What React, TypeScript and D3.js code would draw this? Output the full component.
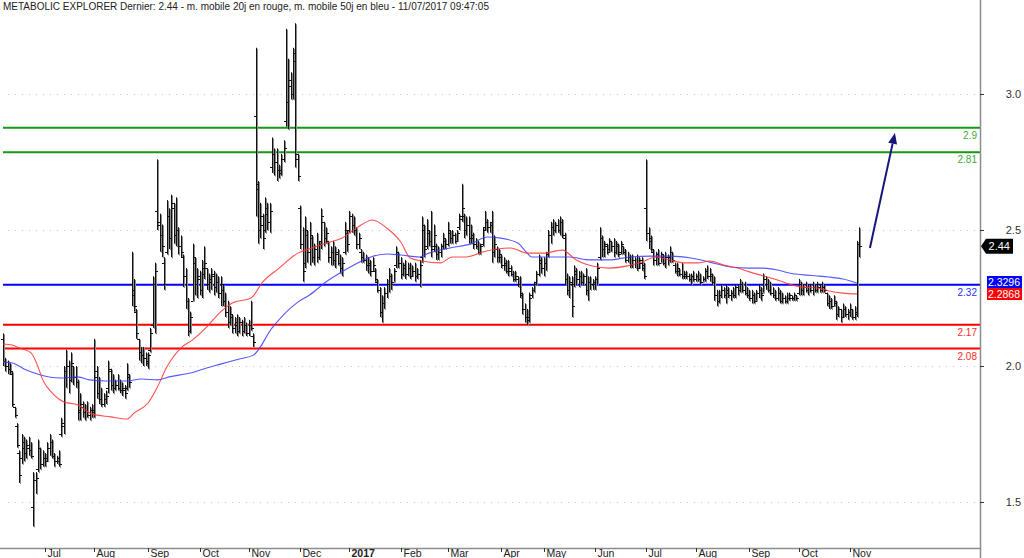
import React from "react";
import * as d3 from "d3";

const TITLE = "METABOLIC EXPLORER Dernier: 2.44 - m. mobile 20j en rouge, m. mobile 50j en bleu - 11/07/2017 09:47:05";

const START_DATE = "2016-06-07";
const HOLIDAYS = ["2016-12-26", "2017-04-14", "2017-04-17", "2017-05-01"];
const MONTH_LABELS = ["Jan", "Feb", "Mar", "Apr", "May", "Jun", "Jul", "Aug", "Sep", "Oct", "Nov", "Dec"];

// daily bars: [open, high, low, close]
const OHLC: number[][] = [
[2.10,2.12,2.00,2.02],[2.02,2.03,1.98,2.00],[2.00,2.02,1.97,1.99],[1.99,2.01,1.97,1.98],[1.97,1.98,1.85,1.86],
[1.85,1.85,1.81,1.82],[1.78,1.79,1.70,1.71],[1.68,1.69,1.57,1.60],[1.66,1.75,1.64,1.72],[1.70,1.74,1.65,1.68],
[1.68,1.73,1.66,1.71],[1.70,1.74,1.67,1.69],[1.69,1.72,1.66,1.67],[1.48,1.61,1.41,1.58],[1.58,1.61,1.53,1.59],
[1.62,1.73,1.61,1.70],[1.70,1.70,1.62,1.64],[1.64,1.69,1.63,1.66],[1.66,1.68,1.63,1.65],[1.66,1.72,1.65,1.70],
[1.70,1.75,1.67,1.72],[1.72,1.73,1.66,1.67],[1.67,1.68,1.63,1.65],[1.65,1.67,1.64,1.66],[1.65,1.69,1.63,1.64],
[1.75,1.81,1.74,1.79],[1.78,2.00,1.75,1.96],[1.98,2.06,1.92,2.00],[2.00,2.02,1.90,1.95],[1.96,2.05,1.94,2.01],
[2.00,2.00,1.93,1.96],[1.96,2.00,1.92,1.94],[1.94,1.95,1.80,1.83],[1.84,1.90,1.80,1.86],[1.85,1.87,1.81,1.83],
[1.83,1.86,1.80,1.84],[1.84,1.87,1.81,1.82],[1.82,1.85,1.80,1.84],[1.84,1.86,1.81,1.83],[1.84,2.10,1.81,1.96],
[1.98,2.00,1.88,1.90],[1.90,1.96,1.86,1.88],[1.88,1.92,1.85,1.86],[1.86,1.90,1.85,1.88],[1.88,1.91,1.86,1.89],
[1.92,2.02,1.90,1.99],[1.98,1.99,1.91,1.93],[1.93,1.97,1.90,1.92],[1.92,1.95,1.91,1.93],[1.93,1.97,1.91,1.92],
[1.92,1.95,1.90,1.91],[1.91,1.94,1.89,1.92],[1.91,1.93,1.88,1.90],[1.92,2.01,1.91,1.97],[1.96,1.97,1.92,1.94],
[2.30,2.42,2.22,2.26],[2.28,2.32,2.20,2.22],[2.20,2.21,2.10,2.12],[2.10,2.10,2.02,2.05],[2.05,2.07,2.01,2.04],
[2.04,2.07,2.00,2.03],[2.03,2.05,2.00,2.01],[2.02,2.05,1.99,2.04],[2.06,2.14,2.05,2.12],[2.15,2.33,2.14,2.30],
[2.30,2.38,2.12,2.35],[2.57,2.76,2.50,2.53],[2.52,2.56,2.42,2.48],[2.48,2.52,2.40,2.44],[2.38,2.40,2.28,2.30],
[2.42,2.61,2.41,2.55],[2.55,2.58,2.43,2.47],[2.47,2.63,2.40,2.60],[2.58,2.60,2.45,2.48],[2.48,2.62,2.44,2.50],
[2.50,2.51,2.41,2.44],[2.44,2.48,2.40,2.42],[2.40,2.41,2.29,2.33],[2.33,2.36,2.21,2.24],[2.24,2.25,2.11,2.13],
[2.13,2.20,2.12,2.18],[2.24,2.45,2.24,2.40],[2.38,2.40,2.26,2.30],[2.30,2.36,2.25,2.33],[2.32,2.35,2.26,2.28],
[2.28,2.39,2.25,2.36],[2.34,2.44,2.32,2.38],[2.36,2.36,2.28,2.30],[2.30,2.34,2.27,2.32],[2.31,2.36,2.28,2.34],
[2.33,2.35,2.26,2.29],[2.29,2.34,2.27,2.31],[2.31,2.33,2.25,2.27],[2.27,2.33,2.22,2.30],[2.28,2.30,2.22,2.24],
[2.24,2.27,2.18,2.20],[2.20,2.24,2.14,2.16],[2.16,2.22,2.15,2.19],[2.18,2.19,2.12,2.14],[2.14,2.18,2.12,2.16],
[2.15,2.19,2.11,2.13],[2.13,2.18,2.12,2.16],[2.16,2.17,2.11,2.13],[2.13,2.18,2.12,2.15],[2.15,2.16,2.11,2.12],
[2.12,2.17,2.11,2.15],[2.15,2.24,2.13,2.14],[2.11,2.12,2.07,2.09],[2.92,3.17,2.55,2.67],[2.65,2.68,2.45,2.50],
[2.50,2.60,2.47,2.55],[2.52,2.56,2.43,2.47],[2.50,2.62,2.49,2.58],[2.56,2.60,2.50,2.53],[2.53,2.60,2.49,2.57],
[2.73,2.84,2.71,2.78],[2.78,2.80,2.70,2.75],[2.75,2.80,2.68,2.72],[2.72,2.74,2.69,2.71],[2.72,2.78,2.70,2.76],
[2.76,2.83,2.75,2.80],[2.90,3.24,2.88,2.97],[2.97,3.13,2.87,3.05],[3.03,3.08,2.98,3.00],[3.00,3.17,2.98,3.12],
[3.15,3.26,2.73,2.78],[2.76,2.78,2.68,2.70],[2.58,2.59,2.43,2.45],[2.45,2.51,2.31,2.35],[2.38,2.55,2.36,2.50],
[2.48,2.50,2.38,2.42],[2.42,2.53,2.37,2.48],[2.47,2.48,2.38,2.40],[2.40,2.45,2.37,2.43],[2.43,2.49,2.38,2.40],
[2.40,2.46,2.39,2.45],[2.46,2.58,2.43,2.55],[2.53,2.53,2.44,2.47],[2.47,2.51,2.45,2.49],[2.46,2.46,2.38,2.40],
[2.40,2.44,2.37,2.42],[2.42,2.46,2.37,2.39],[2.39,2.44,2.36,2.42],[2.41,2.43,2.37,2.38],[2.38,2.41,2.34,2.36],
[2.36,2.40,2.33,2.38],[2.42,2.53,2.41,2.50],[2.49,2.50,2.42,2.45],[2.50,2.57,2.49,2.55],[2.55,2.56,2.49,2.52],
[2.52,2.55,2.48,2.50],[2.50,2.51,2.43,2.45],[2.45,2.49,2.43,2.47],[2.42,2.43,2.38,2.40],[2.40,2.42,2.38,2.39],
[2.39,2.41,2.35,2.37],[2.37,2.40,2.34,2.38],[2.37,2.39,2.33,2.35],[2.35,2.40,2.35,2.37],[2.35,2.36,2.31,2.32],
[2.31,2.32,2.27,2.28],[2.28,2.29,2.18,2.20],[2.20,2.26,2.16,2.23],[2.23,2.29,2.21,2.27],[2.27,2.32,2.25,2.30],
[2.30,2.36,2.27,2.33],[2.33,2.34,2.28,2.30],[2.31,2.36,2.31,2.35],[2.37,2.44,2.36,2.42],[2.41,2.42,2.36,2.38],
[2.38,2.40,2.32,2.34],[2.34,2.38,2.33,2.37],[2.36,2.39,2.32,2.34],[2.34,2.38,2.33,2.36],[2.36,2.38,2.32,2.33],
[2.33,2.37,2.33,2.35],[2.35,2.38,2.31,2.33],[2.33,2.36,2.32,2.34],[2.34,2.39,2.29,2.37],[2.40,2.55,2.38,2.52],
[2.50,2.52,2.40,2.43],[2.44,2.54,2.43,2.50],[2.49,2.50,2.44,2.46],[2.46,2.57,2.40,2.43],[2.44,2.52,2.42,2.48],
[2.44,2.45,2.39,2.41],[2.41,2.44,2.39,2.42],[2.42,2.45,2.40,2.44],[2.44,2.49,2.43,2.47],[2.46,2.47,2.43,2.45],
[2.45,2.53,2.44,2.50],[2.49,2.50,2.45,2.47],[2.47,2.50,2.45,2.48],[2.48,2.49,2.45,2.46],[2.46,2.50,2.46,2.49],
[2.51,2.56,2.50,2.54],[2.55,2.67,2.53,2.58],[2.55,2.56,2.47,2.50],[2.50,2.55,2.48,2.52],[2.52,2.55,2.45,2.47],
[2.47,2.52,2.45,2.48],[2.47,2.49,2.43,2.45],[2.45,2.47,2.43,2.44],[2.44,2.46,2.41,2.42],[2.42,2.45,2.41,2.44],
[2.45,2.51,2.44,2.50],[2.51,2.57,2.50,2.53],[2.53,2.54,2.49,2.51],[2.51,2.53,2.49,2.52],[2.53,2.57,2.38,2.42],
[2.42,2.48,2.40,2.45],[2.43,2.44,2.38,2.40],[2.40,2.43,2.38,2.41],[2.40,2.41,2.36,2.37],[2.37,2.40,2.35,2.38],
[2.37,2.39,2.34,2.35],[2.35,2.39,2.33,2.36],[2.35,2.37,2.33,2.34],[2.34,2.35,2.31,2.32],[2.32,2.35,2.31,2.33],
[2.32,2.33,2.29,2.30],[2.30,2.33,2.25,2.27],[2.26,2.27,2.19,2.21],[2.21,2.23,2.16,2.18],[2.18,2.21,2.15,2.17],
[2.18,2.27,2.16,2.25],[2.26,2.29,2.25,2.28],[2.28,2.31,2.27,2.30],[2.31,2.35,2.30,2.34],[2.34,2.41,2.33,2.39],
[2.38,2.40,2.34,2.36],[2.36,2.40,2.33,2.38],[2.38,2.42,2.35,2.41],[2.42,2.50,2.40,2.48],[2.48,2.53,2.45,2.51],
[2.51,2.54,2.48,2.50],[2.50,2.53,2.49,2.52],[2.52,2.54,2.49,2.50],[2.50,2.55,2.48,2.53],[2.53,2.54,2.47,2.48],
[2.47,2.49,2.30,2.32],[2.32,2.34,2.26,2.28],[2.28,2.33,2.25,2.31],[2.30,2.33,2.18,2.22],[2.30,2.37,2.29,2.35],
[2.34,2.36,2.30,2.32],[2.32,2.35,2.29,2.33],[2.33,2.35,2.30,2.31],[2.31,2.34,2.30,2.33],[2.33,2.36,2.26,2.28],
[2.28,2.33,2.24,2.31],[2.31,2.33,2.28,2.30],[2.30,2.32,2.28,2.31],[2.30,2.33,2.28,2.32],[2.32,2.38,2.30,2.36],
[2.40,2.51,2.39,2.47],[2.47,2.48,2.40,2.43],[2.43,2.46,2.40,2.45],[2.44,2.45,2.41,2.42],[2.43,2.47,2.42,2.46],
[2.46,2.46,2.42,2.44],[2.44,2.47,2.40,2.42],[2.42,2.46,2.41,2.45],[2.44,2.45,2.40,2.41],[2.42,2.46,2.41,2.45],
[2.44,2.44,2.41,2.42],[2.42,2.43,2.38,2.39],[2.39,2.42,2.38,2.40],[2.40,2.41,2.36,2.37],[2.37,2.41,2.36,2.39],
[2.39,2.40,2.36,2.38],[2.38,2.41,2.35,2.36],[2.36,2.40,2.36,2.39],[2.38,2.40,2.35,2.37],[2.36,2.38,2.32,2.33],
[2.58,2.76,2.46,2.49],[2.49,2.51,2.43,2.47],[2.46,2.48,2.42,2.43],[2.42,2.43,2.37,2.39],[2.39,2.42,2.37,2.41],
[2.40,2.43,2.37,2.38],[2.38,2.42,2.38,2.41],[2.40,2.41,2.37,2.38],[2.38,2.42,2.36,2.40],[2.40,2.41,2.37,2.39],
[2.40,2.44,2.38,2.42],[2.42,2.42,2.38,2.39],[2.37,2.38,2.34,2.35],[2.35,2.38,2.33,2.36],[2.35,2.36,2.33,2.34],
[2.34,2.38,2.32,2.33],[2.33,2.35,2.32,2.34],[2.33,2.35,2.32,2.33],[2.33,2.34,2.31,2.32],[2.32,2.34,2.30,2.33],
[2.33,2.35,2.31,2.32],[2.32,2.34,2.31,2.33],[2.33,2.35,2.31,2.32],[2.32,2.34,2.30,2.31],[2.31,2.33,2.31,2.32],
[2.32,2.36,2.31,2.35],[2.35,2.37,2.32,2.33],[2.33,2.36,2.31,2.34],[2.33,2.34,2.30,2.31],[2.31,2.33,2.24,2.26],
[2.26,2.28,2.22,2.24],[2.24,2.28,2.23,2.26],[2.26,2.30,2.25,2.28],[2.28,2.29,2.25,2.26],[2.26,2.30,2.23,2.28],
[2.27,2.29,2.25,2.26],[2.26,2.28,2.24,2.27],[2.27,2.29,2.25,2.26],[2.26,2.30,2.25,2.29],[2.29,2.30,2.26,2.28],
[2.28,2.32,2.27,2.30],[2.30,2.31,2.27,2.28],[2.28,2.31,2.26,2.27],[2.27,2.29,2.25,2.26],[2.26,2.28,2.24,2.25],
[2.25,2.28,2.23,2.26],[2.26,2.27,2.23,2.24],[2.24,2.28,2.24,2.27],[2.27,2.30,2.25,2.28],[2.28,2.29,2.24,2.26],
[2.27,2.34,2.27,2.32],[2.32,2.33,2.28,2.30],[2.30,2.32,2.27,2.28],[2.28,2.31,2.26,2.27],[2.27,2.29,2.25,2.26],
[2.26,2.28,2.24,2.25],[2.25,2.29,2.24,2.27],[2.27,2.28,2.23,2.24],[2.24,2.27,2.23,2.25],[2.25,2.26,2.23,2.24],
[2.24,2.27,2.23,2.25],[2.25,2.27,2.24,2.26],[2.25,2.26,2.24,2.25],[2.25,2.27,2.24,2.26],[2.26,2.26,2.24,2.25],
[2.27,2.32,2.26,2.30],[2.30,2.31,2.26,2.28],[2.28,2.30,2.26,2.29],[2.29,2.31,2.27,2.28],[2.28,2.30,2.26,2.29],
[2.29,2.30,2.27,2.28],[2.28,2.31,2.26,2.29],[2.29,2.30,2.27,2.28],[2.28,2.31,2.27,2.30],[2.29,2.30,2.27,2.28],
[2.28,2.31,2.27,2.29],[2.29,2.30,2.27,2.28],[2.27,2.27,2.22,2.23],[2.23,2.26,2.21,2.24],[2.24,2.25,2.21,2.22],
[2.22,2.26,2.22,2.24],[2.23,2.24,2.17,2.19],[2.19,2.22,2.18,2.21],[2.21,2.21,2.16,2.18],[2.18,2.23,2.18,2.21],
[2.21,2.22,2.18,2.19],[2.19,2.21,2.17,2.20],[2.20,2.23,2.18,2.21],[2.21,2.21,2.17,2.18],[2.18,2.22,2.17,2.20],
[2.19,2.46,2.18,2.45],[2.45,2.51,2.40,2.44]
];

// moving averages: [bar index, value]
const MA20: number[][] = [
[0,2.081],[4,2.077],[7,2.066],[12,2.048],[15,1.996],[17,1.949],[21,1.901],[26,1.868],[32,1.857],[38,1.824],
[46,1.813],[53,1.805],[56,1.827],[62,1.864],[66,1.923],[70,1.996],[76,2.066],[81,2.096],[87,2.143],[93,2.199],
[98,2.232],[106,2.250],[111,2.309],[118,2.360],[126,2.415],[132,2.434],[138,2.452],[145,2.471],[151,2.507],[158,2.537],
[164,2.507],[170,2.456],[174,2.397],[179,2.386],[187,2.379],[192,2.401],[198,2.401],[205,2.419],[211,2.430],[217,2.434],
[224,2.415],[231,2.415],[239,2.426],[245,2.390],[254,2.364],[259,2.360],[267,2.368],[273,2.382],[279,2.401],[285,2.390],
[291,2.379],[297,2.379],[302,2.386],[308,2.371],[314,2.360],[319,2.346],[325,2.331],[331,2.316],[336,2.301],[342,2.290],
[348,2.287],[353,2.276],[359,2.268],[365,2.265]
];
const MA50: number[][] = [
[0,2.015],[4,2.011],[10,1.985],[16,1.967],[24,1.956],[32,1.960],[37,1.949],[44,1.945],[53,1.945],[59,1.952],
[66,1.949],[71,1.960],[80,1.974],[87,1.993],[93,2.007],[101,2.026],[107,2.040],[115,2.140],[126,2.235],[131,2.261],
[138,2.309],[144,2.342],[150,2.371],[156,2.397],[164,2.412],[170,2.408],[178,2.401],[182,2.415],[191,2.434],[200,2.449],
[207,2.474],[212,2.471],[220,2.452],[224,2.415],[226,2.401],[234,2.401],[242,2.401],[251,2.390],[259,2.390],[268,2.401],
[277,2.404],[285,2.404],[294,2.397],[302,2.382],[311,2.364],[319,2.360],[325,2.360],[331,2.353],[336,2.342],[342,2.335],
[348,2.331],[353,2.327],[359,2.320],[365,2.305]
];

const Y_TICKS = [1.5, 2.0, 2.5, 3.0];
const LEVELS = [
  { value: 2.876, label: "2.9", color: "#169916" },
  { value: 2.786, label: "2.81", color: "#169916" },
  { value: 2.299, label: "2.32", color: "#0000ff" },
  { value: 2.152, label: "2.17", color: "#ff0000" },
  { value: 2.064, label: "2.08", color: "#ff0000" },
];
const LAST_PRICE = { value: 2.44, label: "2.44" };
const MA_LABELS = [
  { label: "2.3296", color: "#0000ff" },
  { label: "2.2868", color: "#ff0000" },
];
// projection arrow [bar index, price] start -> end
const ARROW = [[370.5, 2.434], [381.2, 2.857]];

function tradingDays(start: string, n: number, holidays: string[]): Date[] {
  const out: Date[] = [];
  const d = new Date(start + "T12:00:00Z");
  const hol = new Set(holidays);
  while (out.length < n) {
    const wd = d.getUTCDay();
    const iso = d.toISOString().slice(0, 10);
    if (wd !== 0 && wd !== 6 && !hol.has(iso)) out.push(new Date(d));
    d.setUTCDate(d.getUTCDate() + 1);
  }
  return out;
}

export default function App() {
  const W = 1024, H = 558;
  const axisX = 980;
  const axisY = 548;
  const n = OHLC.length;
  const dates = tradingDays(START_DATE, n, HOLIDAYS);
  const x = d3.scaleLinear().domain([0, n - 1]).range([3, 859.4]);
  const y = d3.scaleLinear().domain([1.5, 3.0]).range([502, 94]);
  const font = "'Liberation Sans', Arial, sans-serif";

  const monthTicks: { i: number; label: string; bold: boolean }[] = [];
  for (let i = 1; i < n; i++) {
    if (dates[i].getUTCMonth() !== dates[i - 1].getUTCMonth()) {
      const m = dates[i].getUTCMonth();
      monthTicks.push({ i, label: m === 0 ? String(dates[i].getUTCFullYear()) : MONTH_LABELS[m], bold: m === 0 });
    }
  }

  const maLine = d3.line<number[]>().x((d) => x(d[0])).y((d) => y(d[1])).curve(d3.curveMonotoneX);

  const ax = x(ARROW[0][0]), ay = y(ARROW[0][1]);
  const bx = x(ARROW[1][0]), by = y(ARROW[1][1]);
  const ang = Math.atan2(by - ay, bx - ax);
  const hl = 11, hw = 4.5;
  const baseX = bx - hl * Math.cos(ang), baseY = by - hl * Math.sin(ang);
  const head = [
    [bx, by],
    [baseX + hw * Math.sin(ang), baseY - hw * Math.cos(ang)],
    [baseX - hw * Math.sin(ang), baseY + hw * Math.cos(ang)],
  ];

  const lpY = y(LAST_PRICE.value);
  const maBoxTop = 276;

  return (
    <svg width={W} height={H} style={{ position: "absolute", left: 0, top: 0, background: "#fff" }} fontFamily={font}>
      <rect x={0} y={0} width={W} height={H} fill="#fff" />
      <text x={3} y={10} fontSize={10} fill="#222">{TITLE}</text>

      {/* dotted grid */}
      {Y_TICKS.map((t) => (
        <line key={"g" + t} x1={8} x2={976} y1={Math.round(y(t)) + 0.5} y2={Math.round(y(t)) + 0.5}
          stroke="#c8c8c8" strokeDasharray="1,6" />
      ))}

      {/* level lines */}
      {LEVELS.map((l) => (
        <g key={"l" + l.label}>
          <line x1={3} x2={axisX} y1={y(l.value)} y2={y(l.value)} stroke={l.color} strokeWidth={2} />
          <text x={977} y={y(l.value) + 11} fontSize={10} fill={l.color} textAnchor="end" opacity={0.85}>{l.label}</text>
        </g>
      ))}

      {/* bars */}
      {OHLC.map((b, i) => {
        const cx = Math.round(x(i)) + 0.5;
        return (
          <g key={"b" + i}>
            <line x1={cx + 1} x2={cx + 1} y1={y(b[1]) + 1} y2={y(b[2]) + 1} stroke="#8a8a8a" />
            <line x1={cx} x2={cx} y1={y(b[1])} y2={y(b[2])} stroke="#111" />
            <line x1={cx - 2.5} x2={cx} y1={Math.round(y(b[0])) + 0.5} y2={Math.round(y(b[0])) + 0.5} stroke="#111" />
            <line x1={cx} x2={cx + 2.5} y1={Math.round(y(b[3])) + 0.5} y2={Math.round(y(b[3])) + 0.5} stroke="#111" />
          </g>
        );
      })}

      {/* moving averages */}
      <path d={maLine(MA50) || ""} fill="none" stroke="#3a3aff" strokeWidth={1.1} opacity={0.85} />
      <path d={maLine(MA20) || ""} fill="none" stroke="#ff3030" strokeWidth={1.1} opacity={0.85} />

      {/* arrow */}
      <line x1={ax} y1={ay} x2={baseX} y2={baseY} stroke="#16167a" strokeWidth={2} />
      <polygon points={head.map((p) => p.join(",")).join(" ")} fill="#16167a" />

      {/* axes */}
      <line x1={0} x2={axisX} y1={axisY + 0.5} y2={axisY + 0.5} stroke="#8c8c8c" strokeWidth={1.5} />
      <line x1={axisX + 0.5} x2={axisX + 0.5} y1={0} y2={H} stroke="#8c8c8c" strokeWidth={1.5} />
      {Y_TICKS.map((t) => (
        <g key={"yt" + t}>
          <line x1={axisX} x2={axisX + 4} y1={Math.round(y(t)) + 0.5} y2={Math.round(y(t)) + 0.5} stroke="#333" />
          <text x={1021} y={y(t) + 4} fontSize={11} fill="#333" textAnchor="end">{t.toFixed(1)}</text>
        </g>
      ))}
      {monthTicks.map((m) => {
        const tx = Math.round(x(m.i)) + 0.5;
        return (
          <g key={"m" + m.i}>
            <line x1={tx} x2={tx} y1={axisY} y2={axisY + 4} stroke="#333" />
            <text x={tx + 2} y={557} fontSize={10.5} fill="#222" fontWeight={m.bold ? "bold" : "normal"}>{m.label}</text>
          </g>
        );
      })}

      {/* last price tag */}
      <polygon points={`${axisX + 1},${lpY} ${axisX + 6},${lpY - 7.5} ${1013},${lpY - 7.5} ${1013},${lpY + 7.5} ${axisX + 6},${lpY + 7.5}`} fill="#000" />
      <text x={1010} y={lpY + 4} fontSize={11} fill="#fff" textAnchor="end">{LAST_PRICE.label}</text>

      {/* MA value tags */}
      {MA_LABELS.map((m, k) => (
        <g key={"ma" + k}>
          <rect x={987} y={maBoxTop + k * 12} width={35} height={12} fill={m.color} />
          <text x={1020} y={maBoxTop + k * 12 + 10} fontSize={10.5} fill="#fff" textAnchor="end">{m.label}</text>
        </g>
      ))}
    </svg>
  );
}
